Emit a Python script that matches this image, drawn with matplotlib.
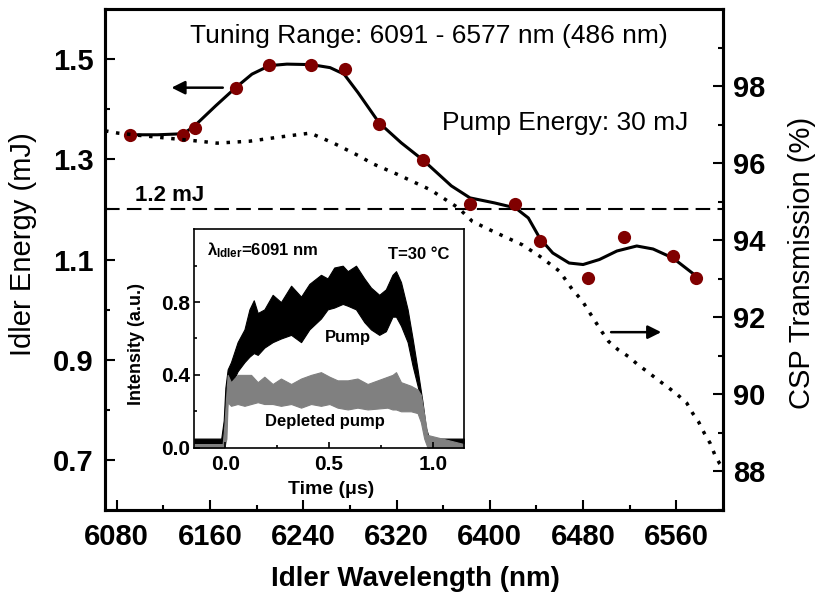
import matplotlib
matplotlib.use("Agg")
import matplotlib.pyplot as plt

plt.rcParams["font.family"] = ["Liberation Sans", "DejaVu Sans"]
plt.rcParams["mathtext.fontset"] = "custom"
plt.rcParams["mathtext.rm"] = "Liberation Sans:bold"
plt.rcParams["mathtext.it"] = "Liberation Sans:bold"
plt.rcParams["mathtext.bf"] = "Liberation Sans:bold"

# measured idler energy (red dots)
wavelength = [6091, 6137, 6147, 6182, 6211, 6247, 6276, 6305,
              6343, 6383, 6422, 6443, 6484, 6515, 6557, 6577]
energy = [1.349, 1.349, 1.363, 1.443, 1.488, 1.488, 1.481, 1.371,
          1.298, 1.211, 1.211, 1.137, 1.063, 1.145, 1.108, 1.063]

# smooth guide line through the dots
curve_wl = [6091, 6115, 6137, 6146, 6165, 6182, 6196, 6211, 6226, 6247,
            6263, 6275, 6287, 6305, 6324, 6343, 6367, 6383, 6404, 6422,
            6433, 6443, 6454, 6468, 6480, 6494, 6509, 6526, 6540, 6557, 6577]
curve_energy = [1.349, 1.349, 1.351, 1.365, 1.407, 1.443, 1.470, 1.487, 1.490, 1.489,
                1.483, 1.470, 1.433, 1.373, 1.333, 1.298, 1.247, 1.223, 1.213, 1.203,
                1.183, 1.142, 1.113, 1.093, 1.090, 1.100, 1.117, 1.127, 1.121, 1.103, 1.067]

# CSP transmission (dotted, right axis)
trans_wl = [6070, 6081, 6100, 6123, 6151, 6166, 6194, 6220, 6246, 6266,
            6287, 6300, 6320, 6349, 6373, 6385, 6400, 6428, 6443, 6460,
            6471, 6479, 6485, 6496, 6502, 6510, 6519, 6527, 6536, 6544,
            6553, 6561, 6569, 6574, 6579, 6584, 6589, 6593, 6597, 6600]
trans_pct = [96.84, 96.78, 96.72, 96.65, 96.57, 96.52, 96.57, 96.68, 96.78, 96.52,
             96.20, 95.98, 95.72, 95.31, 94.84, 94.49, 94.27, 93.88, 93.58, 93.19,
             92.71, 92.44, 92.15, 91.63, 91.37, 91.16, 90.98, 90.77, 90.57, 90.38,
             90.18, 89.99, 89.77, 89.51, 89.29, 88.99, 88.73, 88.43, 88.21, 88.10]

# inset: pump pulse envelope (black)
pump_t = [-0.15, -0.02, -0.008, 0.0, 0.011, 0.027, 0.059, 0.092, 0.116, 0.137,
          0.156, 0.188, 0.228, 0.268, 0.317, 0.365, 0.405, 0.461, 0.493, 0.525,
          0.566, 0.590, 0.630, 0.670, 0.702, 0.742, 0.774, 0.806, 0.823, 0.847,
          0.879, 0.903, 0.927, 0.951, 0.967, 0.983, 1.15]
pump_hi = [0.05, 0.05, 0.15, 0.33, 0.43, 0.47, 0.58, 0.65, 0.76, 0.81,
           0.74, 0.76, 0.84, 0.80, 0.89, 0.83, 0.90, 0.95, 0.93, 0.99,
           1.00, 0.97, 1.00, 0.93, 0.88, 0.84, 0.87, 0.95, 0.97, 0.91,
           0.76, 0.60, 0.43, 0.25, 0.11, 0.05, 0.05]
pump_lo = [0.02, 0.02, 0.02, 0.05, 0.30, 0.34, 0.42, 0.47, 0.50, 0.52,
           0.51, 0.55, 0.58, 0.60, 0.62, 0.58, 0.65, 0.71, 0.76, 0.77,
           0.79, 0.78, 0.76, 0.69, 0.65, 0.62, 0.64, 0.72, 0.72, 0.67,
           0.58, 0.45, 0.34, 0.22, 0.08, 0.02, 0.02]

# inset: depleted pump envelope (grey)
depl_t = [-0.15, -0.013, -0.005, 0.005, 0.011, 0.027, 0.059, 0.092, 0.124, 0.156,
          0.188, 0.228, 0.268, 0.317, 0.365, 0.413, 0.461, 0.502, 0.541, 0.590,
          0.637, 0.686, 0.734, 0.782, 0.806, 0.823, 0.847, 0.895, 0.927, 0.943,
          0.959, 0.975, 1.15]
depl_hi = [0.02, 0.02, 0.12, 0.30, 0.40, 0.36, 0.40, 0.40, 0.40, 0.36,
           0.39, 0.35, 0.38, 0.35, 0.38, 0.40, 0.415, 0.39, 0.37, 0.37,
           0.38, 0.35, 0.37, 0.39, 0.40, 0.415, 0.36, 0.34, 0.32, 0.29,
           0.18, 0.07, 0.02]
depl_lo = [0.0, 0.0, 0.0, 0.05, 0.25, 0.23, 0.24, 0.23, 0.24, 0.25,
           0.24, 0.24, 0.23, 0.24, 0.22, 0.24, 0.23, 0.24, 0.22, 0.21,
           0.22, 0.21, 0.215, 0.22, 0.21, 0.21, 0.20, 0.20, 0.19, 0.14,
           0.05, 0.0, 0.0]


def bold_ticks(axis):
    for lab in axis.get_xticklabels() + axis.get_yticklabels():
        lab.set_fontweight("bold")


fig = plt.figure(figsize=(8.18, 5.97), dpi=100)
ax = fig.add_axes([0.1284, 0.1457, 0.7555, 0.8392])
ax2 = ax.twinx()

ax.plot(curve_wl, curve_energy, color="black", lw=2.2, zorder=2)
ax.plot(wavelength, energy, "o", color="#800000", ms=9.5, mec="none", zorder=3)
ax.axhline(1.2, color="black", lw=1.5, dashes=(7, 3.5))
ax2.plot(trans_wl, trans_pct, color="black", lw=2.5, dashes=(1, 2.2))

ax.set_xlim(6070, 6600)
ax.set_ylim(0.6, 1.6)
ax2.set_ylim(87, 100)
ax.set_xticks([6080, 6160, 6240, 6320, 6400, 6480, 6560])
ax.set_xticks([6120, 6200, 6280, 6360, 6440, 6520], minor=True)
ax.set_yticks([0.7, 0.9, 1.1, 1.3, 1.5])
ax.set_yticks([0.8, 1.0, 1.2, 1.4], minor=True)
ax2.set_yticks([88, 90, 92, 94, 96, 98])
ax2.set_yticks([87, 89, 91, 93, 95, 97, 99], minor=True)

for a in (ax, ax2):
    a.tick_params(which="both", direction="in", width=1.5, labelsize=21)
    a.tick_params(which="major", length=7)
    a.tick_params(which="minor", length=3.6)
    for s in a.spines.values():
        s.set_linewidth(2.2)
ax.tick_params(axis="x", pad=9, top=False)
ax.tick_params(axis="y", pad=8, right=False)
ax2.tick_params(axis="y", pad=7)
bold_ticks(ax)
bold_ticks(ax2)

ax.set_xlabel("Idler Wavelength (nm)", fontsize=20, fontweight="bold")
ax.xaxis.set_label_coords(0.503, -0.112)
ax.set_ylabel("Idler Energy (mJ)", fontsize=21)
ax.yaxis.set_label_coords(-0.110, 0.531)
ax2.set_ylabel("CSP Transmission (%)", fontsize=21)
ax2.yaxis.set_label_coords(1.105, 0.493)

ax.text(6143, 1.546, "Tuning Range: 6091 - 6577 nm (486 nm)", fontsize=19, va="center")
ax.text(6359, 1.373, "Pump Energy: 30 mJ", fontsize=19, va="center")
ax.text(6096, 1.2166, "1.2 mJ", fontsize=16, fontweight="bold", va="baseline")

arrow = dict(arrowstyle="-|>", lw=1.8, color="black", mutation_scale=20, shrinkA=0, shrinkB=0)
ax.annotate("", xy=(6127, 1.443), xytext=(6171, 1.443), arrowprops=arrow)
ax.annotate("", xy=(6547, 0.955), xytext=(6504, 0.955), arrowprops=arrow)

# inset
axin = fig.add_axes([0.2375, 0.2501, 0.3295, 0.3658])
axin.fill_between(pump_t, pump_lo, pump_hi, color="black", lw=0.8)
axin.fill_between(depl_t, depl_lo, depl_hi, color="#808080", lw=0.8)
axin.set_xlim(-0.15, 1.15)
axin.set_ylim(0, 1.2)
axin.set_xticks([0.0, 0.5, 1.0])
axin.set_xticks([0.25, 0.75], minor=True)
axin.set_yticks([0.0, 0.4, 0.8])
axin.set_yticks([0.2, 0.6, 1.0], minor=True)
axin.tick_params(which="both", direction="in", width=1.2, labelsize=15)
axin.tick_params(which="major", length=4)
axin.tick_params(which="minor", length=2.5)
axin.tick_params(axis="x", pad=5)
axin.tick_params(axis="y", pad=3)
for s in axin.spines.values():
    s.set_linewidth(1.2)
bold_ticks(axin)
axin.set_xlabel("Time (\u03bcs)", fontsize=14, fontweight="bold")
axin.xaxis.set_label_coords(0.507, -0.151)
axin.set_ylabel("Intensity (a.u.)", fontsize=13, fontweight="bold")
axin.yaxis.set_label_coords(-0.183, 0.477)

axin.text(-0.088, 1.085, r"$\lambda_{\rm Idler}$=6091 nm", fontsize=12, fontweight="bold", va="center")
axin.text(1.08, 1.06, "T=30 \u00b0C", fontsize=12, fontweight="bold", ha="right", va="center")
axin.text(0.589, 0.607, "Pump", fontsize=12, fontweight="bold", ha="center", va="center")
axin.text(0.481, 0.146, "Depleted pump", fontsize=12, fontweight="bold", ha="center", va="center")

fig.savefig("out.png", dpi=100)
plt.close(fig)
